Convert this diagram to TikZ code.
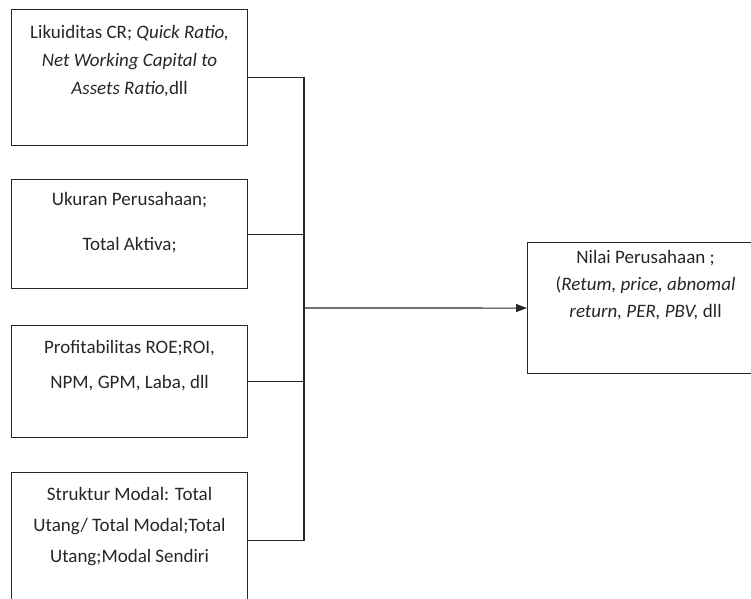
\documentclass[tikz,border=0pt]{standalone}
\usepackage{fontspec}
\setmainfont{Carlito}
\usepackage{tikz}
\usetikzlibrary{arrows.meta, positioning}

\begin{document}
\begin{tikzpicture}[
  x=1pt, y=-1pt,
  >={Triangle[length=11pt, width=8pt]},
  box/.style={draw=black!85, line width=1.1pt, anchor=north west, minimum width=236pt, inner sep=0pt},
  txt/.style={font=\fontsize{19}{28}\selectfont, align=center, inner sep=0pt, anchor=north, text=black!85},
  link/.style={draw=black!85, line width=1.1pt},
]
\useasboundingbox (0,0) rectangle (751,598);

% --- Variable boxes ---
\node[box, minimum height=136pt] (likuid) at (11,9) {};
\node[box, minimum height=109pt] (ukuran) at (11,179) {};
\node[box, minimum height=112pt] (profit) at (11,325) {};
\node[box, minimum height=136pt] (modal) at (11,472) {};
\node[box, minimum height=131pt] (nilai) at (527,242) {};

% --- Box texts ---
\node[txt, below=16pt of likuid.north] (likuidtxt) {Likuiditas CR; \textit{Quick Ratio,}\\\textit{Net Working Capital to}\\\textit{Assets Ratio,}dll};
\node[txt, below=13pt of ukuran.north] (ukurantxt) {Ukuran Perusahaan;\\[17pt]Total Aktiva;};
\node[txt, below=15pt of profit.north] (profittxt) {Profitabilitas ROE;ROI,\\[7pt]NPM, GPM, Laba, dll};
\node[txt, below=15pt of modal.north] (modaltxt) {Struktur Modal: Total\\[3pt]Utang/ Total Modal;Total\\[3pt]Utang;Modal Sendiri};
\node[txt, below=8pt of nilai.north] (nilaitxt) {Nilai Perusahaan ;\\[-1pt](\textit{Retum, price, abnomal}\\[-1pt]\textit{return, PER, PBV,} dll};

% --- Connectors ---
\coordinate (bus) at (304,308);
\draw[link] (likuid.east) -| (bus) |- (modal.east);
\draw[link] (ukuran.east) -| (bus);
\draw[link] (profit.east) -| (bus);
\draw[link, ->] (bus) -- (nilai.west);

\end{tikzpicture}
\end{document}
